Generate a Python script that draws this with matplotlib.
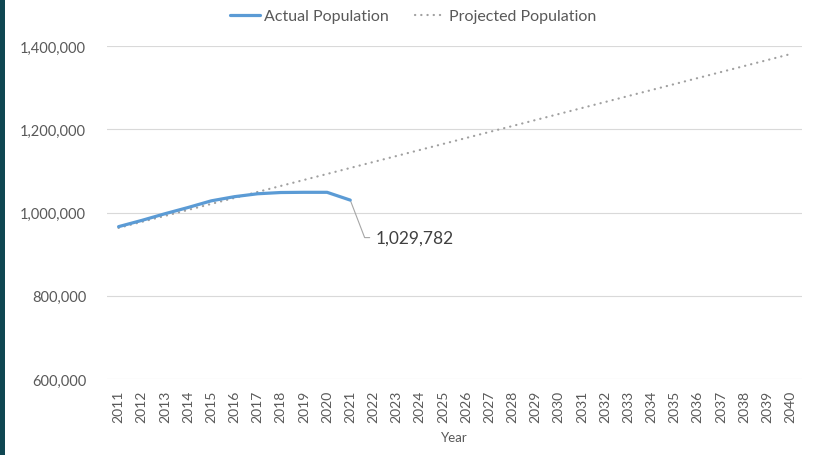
import matplotlib
matplotlib.use("Agg")
import matplotlib.pyplot as plt
from matplotlib.patches import Rectangle
from matplotlib.ticker import FuncFormatter

years = [str(y) for y in range(2011, 2041)]
actual_years = years[:11]
actual_pop = [966000, 981000, 997000, 1012000, 1028000, 1038000, 1045000,
              1048000, 1048500, 1048500, 1029782]
projected_pop = [963000, 977500, 991800, 1006200, 1020600, 1035000, 1049400,
                 1063800, 1078200, 1092600, 1107000, 1121400, 1135800, 1150200,
                 1164600, 1179000, 1193400, 1207800, 1222200, 1236600, 1251000,
                 1265400, 1279800, 1294200, 1308600, 1323000, 1337400, 1351800,
                 1366200, 1380600]
yticks = [600000, 800000, 1000000, 1200000, 1400000]
label_value = "1,029,782"

plt.rcParams['font.family'] = ['Lato', 'DejaVu Sans']
text_color = '#595959'

fig = plt.figure(figsize=(8.15, 4.56), dpi=100)
fig.patches.append(Rectangle((0, 0), 5 / 815, 1, transform=fig.transFigure,
                             facecolor='#0F4752', edgecolor='none', zorder=10))

ax = fig.add_axes([107 / 815, 1 - 380 / 456, (802 - 107) / 815, (380 - 47) / 456])
x_all = list(range(len(years)))
x_act = list(range(len(actual_years)))

ax.plot(x_all, projected_pop, color='#A0A0A0', lw=1.6,
        linestyle=(0, (0.1, 2.7)), dash_capstyle='round',
        label='Projected Population', zorder=3)
ax.plot(x_act, actual_pop, color='#5B9BD5', lw=2.3,
        solid_capstyle='round', solid_joinstyle='round',
        label='Actual Population', zorder=4)

ax.set_xlim(-0.5, len(years) - 0.5)
ax.set_ylim(600000, 1400000)
ax.set_yticks(yticks)
ax.yaxis.set_major_formatter(FuncFormatter(lambda v, p: f"{int(v):,}"))
ax.set_xticks(x_all)
ax.set_xticklabels(years, rotation=90)
ax.grid(axis='y', color='#D9D9D9', lw=0.8)
ax.set_axisbelow(True)
for s in ax.spines.values():
    s.set_visible(False)
ax.tick_params(axis='both', length=0, colors=text_color)
ax.tick_params(axis='y', labelsize=10.5, pad=15)
ax.tick_params(axis='x', labelsize=10, pad=8)
ax.set_xlabel('Year', color=text_color, fontsize=9.5, labelpad=6)

ax.annotate(label_value, xy=(x_act[-1], actual_pop[-1]),
            xytext=(18, -27), textcoords='offset points',
            ha='left', va='center', fontsize=12.5, color='#404040',
            arrowprops=dict(arrowstyle='-', color='#A6A6A6', lw=0.8,
                            connectionstyle='angle,angleA=0,angleB=111,rad=0',
                            shrinkA=2, shrinkB=1))

handles, labels = ax.get_legend_handles_labels()
leg = fig.legend(handles[::-1], labels[::-1], loc='center',
                 bbox_to_anchor=(413 / 815, 1 - 17 / 456), ncol=2,
                 frameon=False, fontsize=11.5, handlelength=1.9,
                 handletextpad=0.25, columnspacing=1.6)
for t in leg.get_texts():
    t.set_color(text_color)

fig.savefig('out.png', dpi=100)
